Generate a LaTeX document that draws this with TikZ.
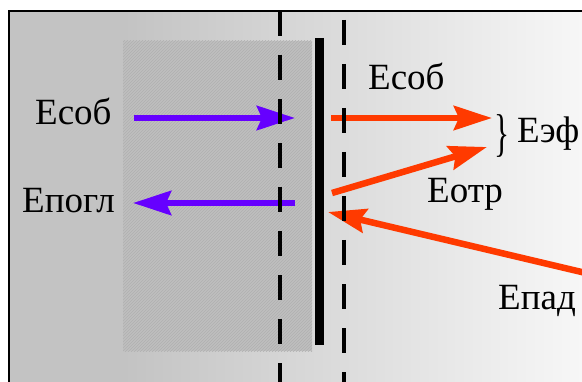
\documentclass[tikz,border=0pt]{standalone}
\usepackage{fontspec}
\setmainfont{Liberation Serif}
\usetikzlibrary{arrows.meta,patterns}

\definecolor{wallgray}{HTML}{C3C3C3}
\definecolor{lightend}{HTML}{F8F8F8}
\definecolor{layergray}{HTML}{BFBFBF}
\definecolor{hatchgray}{HTML}{B0B0B0}
\definecolor{flowviolet}{HTML}{6600FF}
\definecolor{flowred}{HTML}{FF3A00}

\tikzset{
  lbl/.style={font=\fontsize{37}{40}\selectfont, inner sep=0pt, anchor=base west},
  beam/.style={line width=6.5pt, -{Stealth[length=38pt,width=24pt,inset=5pt]}},
  violetbeam/.style={beam, draw=flowviolet},
  redbeam/.style={beam, draw=flowred},
  boundary/.style={line width=3.4pt, dash pattern=on 25pt off 19pt},
}

\begin{document}
\begin{tikzpicture}[x=1pt,y=1pt]
  \useasboundingbox (0,0) rectangle (582,381);
  \clip (0,0) rectangle (582,381);

  % background: solid wall on the left, fading to the right
  \fill[wallgray] (9,-10) rectangle (600,370);
  \shade[left color=wallgray, right color=lightend] (123,-10) rectangle (592,370);

  % absorbing layer
  \fill[layergray] (123,30) rectangle (312,340);
  \fill[pattern=north east lines, pattern color=hatchgray] (123,30) rectangle (312,340);

  % frame
  \draw[line width=2.5pt] (9,-10) -- (9,370) -- (600,370);

  % arrow end points
  \coordinate (sobL0) at (134,263);
  \coordinate (sobL1) at (295,263);
  \coordinate (poglA) at (295,178);
  \coordinate (poglB) at (133,178);
  \coordinate (sobR0) at (331,263);
  \coordinate (sobR1) at (492,263);
  \coordinate (otr0) at (332,188);
  \coordinate (otr1) at (487,234);
  \coordinate (pad0) at (590,107);
  \coordinate (pad1) at (328,169);

  % flows
  \draw[violetbeam] (sobL0) -- (sobL1);
  \draw[violetbeam] (poglA) -- (poglB);
  \draw[redbeam] (sobR0) -- (sobR1);
  \draw[redbeam] (otr0) -- (otr1);
  \draw[redbeam] (pad0) -- (pad1);

  % boundaries and the emitting surface
  \coordinate (d1top) at (280,370);
  \coordinate (d1bot) at (280,-5);
  \coordinate (d2top) at (344,361);
  \coordinate (d2bot) at (344,-5);
  \draw[boundary] (d1top) -- (d1bot);
  \draw[boundary] (d2top) -- (d2bot);
  \coordinate (surfTop) at (319.5,343);
  \coordinate (surfBot) at (319.5,36);
  \draw[line width=9pt] (surfTop) -- (surfBot);

  % labels
  \node[lbl] (tSobL) at (35,256) {Есоб};
  \node[lbl] (tPogl) at (22,168) {Епогл};
  \node[lbl] (tSobR) at (368,291) {Есоб};
  \node[lbl] (tEf) at (517,238) {Еэф};
  \node[lbl] (tOtr) at (427,178) {Еотр};
  \node[lbl] (tPad) at (498,72) {Епад};
  \node[font=\fontsize{37}{40}\selectfont, inner sep=0pt, yscale=1.4, xscale=0.85] (brace) at (502.5,245) {\}};
\end{tikzpicture}
\end{document}
